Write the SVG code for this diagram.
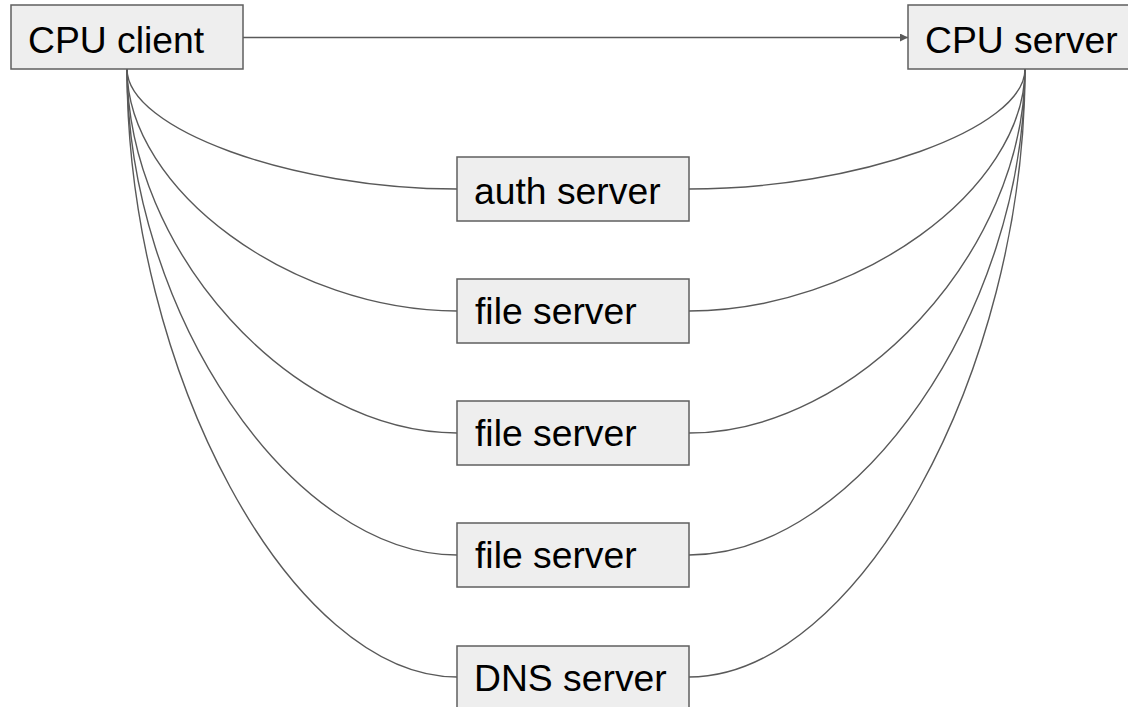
<svg xmlns="http://www.w3.org/2000/svg" width="1128" height="707" viewBox="0 0 1128 707">
  <style>
    .box { fill: #eeeeee; stroke: #5f5f5f; stroke-width: 1.5; }
    .label { font-family: "Liberation Sans", Arial, sans-serif; font-size: 37.3px; fill: #000000; }
    .wire { fill: none; stroke: #595959; stroke-width: 1.4; }
  </style>
  <defs>
    <marker id="arrow" viewBox="0 0 10 10" refX="10" refY="5" markerWidth="10" markerHeight="8" markerUnits="userSpaceOnUse" orient="auto">
      <path d="M0,0 L10,5 L0,10 Z" fill="#595959"/>
    </marker>
  </defs>
  <rect width="1128" height="707" fill="#ffffff"/>

  <g id="connectors">
    <line class="wire" x1="243" y1="37.5" x2="908" y2="37.5" marker-end="url(#arrow)"/>
    <!-- client side -->
    <path class="wire" d="M127,69 C127,129 292,189 457,189"/>
    <path class="wire" d="M127,69 C127,190 292,311 457,311"/>
    <path class="wire" d="M127,69 C127,251 292,433 457,433"/>
    <path class="wire" d="M127,69 C127,312 292,555 457,555"/>
    <path class="wire" d="M127,69 C127,373 292,677 457,677"/>
    <!-- server side -->
    <path class="wire" d="M1025,69 C1025,129 857,189 689,189"/>
    <path class="wire" d="M1025,69 C1025,190 857,311 689,311"/>
    <path class="wire" d="M1025,69 C1025,251 857,433 689,433"/>
    <path class="wire" d="M1025,69 C1025,312 857,555 689,555"/>
    <path class="wire" d="M1025,69 C1025,373 857,677 689,677"/>
  </g>

  <g id="cpu-client">
    <rect class="box" x="11" y="5" width="232" height="64"/>
    <text class="label" x="28" y="53">CPU client</text>
  </g>
  <g id="cpu-server">
    <rect class="box" x="908" y="5" width="234" height="64"/>
    <text class="label" x="925" y="53">CPU server</text>
  </g>
  <g id="auth-server">
    <rect class="box" x="457" y="157" width="232" height="64"/>
    <text class="label" x="474" y="204">auth server</text>
  </g>
  <g id="file-server-1">
    <rect class="box" x="457" y="279" width="232" height="64"/>
    <text class="label" x="475" y="324">file server</text>
  </g>
  <g id="file-server-2">
    <rect class="box" x="457" y="401" width="232" height="64"/>
    <text class="label" x="475" y="446">file server</text>
  </g>
  <g id="file-server-3">
    <rect class="box" x="457" y="523" width="232" height="64"/>
    <text class="label" x="475" y="568">file server</text>
  </g>
  <g id="dns-server">
    <rect class="box" x="457" y="646" width="232" height="64"/>
    <text class="label" x="474" y="691">DNS server</text>
  </g>
</svg>
